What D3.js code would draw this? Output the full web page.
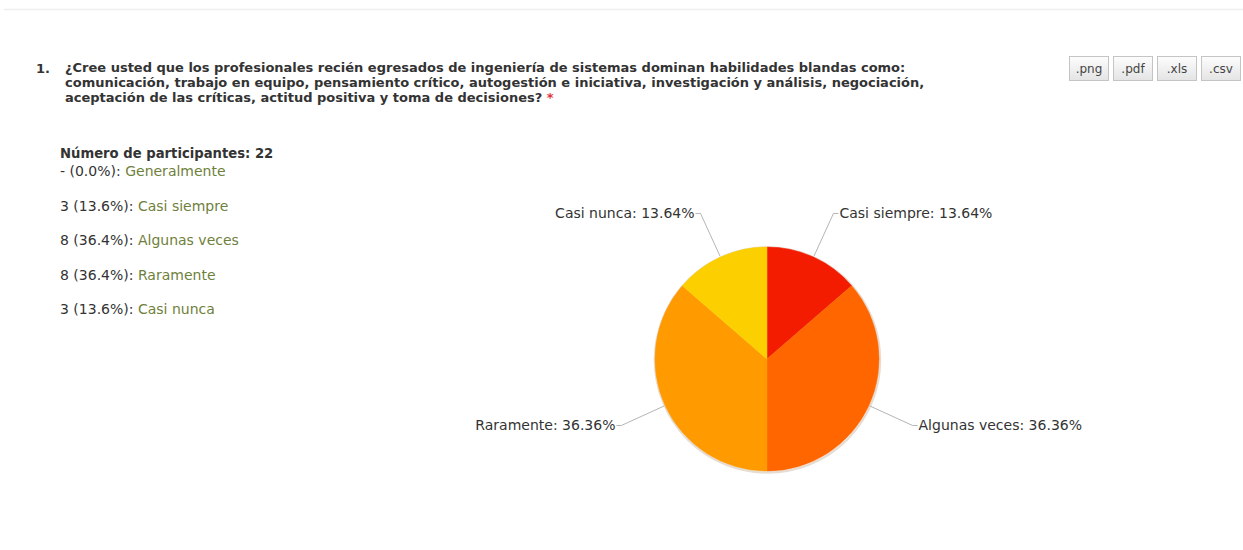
<!DOCTYPE html>
<html>
<head>
<meta charset="utf-8">
<script src="https://cdn.jsdelivr.net/npm/d3@7"></script>
<style>
  body { margin: 0; background: #fff; }
  svg { display: block; }
</style>
</head>
<body>
<svg id="chart" width="1243" height="550"></svg>
<script>
// data
const questionNumber = "1.";
const questionLines = [
  "¿Cree usted que los profesionales recién egresados de ingeniería de sistemas dominan habilidades blandas como:",
  "comunicación, trabajo en equipo, pensamiento crítico, autogestión e iniciativa, investigación y análisis, negociación,",
  "aceptación de las críticas, actitud positiva y toma de decisiones?"
];
const categories = ["Generalmente", "Casi siempre", "Algunas veces", "Raramente", "Casi nunca"];
const counts = [0, 3, 8, 8, 3];
const sliceColors = ["#7cb5ec", "#f31c00", "#ff6600", "#ff9a00", "#fccf00"];
const exportButtons = [".png", ".pdf", ".xls", ".csv"];

const width = 1243;
const fontFamily = "'DejaVu Sans', Verdana, sans-serif";
const total = d3.sum(counts);

const svg = d3.select("#chart");

svg.append("rect").attr("width", width).attr("height", 550).attr("fill", "#fff");

// faint top rule
svg.append("line")
  .attr("x1", 4).attr("x2", width).attr("y1", 9.5).attr("y2", 9.5)
  .attr("stroke", "#eeeeee").attr("stroke-width", 1.5);

// question heading
const head = svg.append("g").attr("class", "question")
  .style("font-family", fontFamily).style("font-size", "13px")
  .style("font-weight", "bold").style("fill", "#333");

head.append("text").attr("x", 36).attr("y", 73).text(questionNumber);

head.selectAll("text.line")
  .data(questionLines)
  .enter()
  .append("text")
  .attr("class", "line")
  .attr("x", 65)
  .attr("y", (d, i) => 72 + i * 15)
  .each(function(d, i) {
    const t = d3.select(this);
    t.append("tspan").text(d);
    if (i === questionLines.length - 1) {
      t.append("tspan").attr("fill", "#e0343a").text(" *");
    }
  });

// export buttons
const btnG = svg.append("g").attr("class", "buttons")
  .style("font-family", fontFamily).style("font-size", "12px");

let bx = 1240;
const btnData = exportButtons.slice().reverse().map(label => {
  const w = 39;
  bx -= w;
  const item = { label, x: bx, w };
  bx -= 5;
  return item;
});

const grad = svg.append("defs").append("linearGradient")
  .attr("id", "btnGrad").attr("x1", 0).attr("x2", 0).attr("y1", 0).attr("y2", 1);
grad.append("stop").attr("offset", "0%").attr("stop-color", "#fdfdfd");
grad.append("stop").attr("offset", "100%").attr("stop-color", "#e4e4e4");

const btn = btnG.selectAll("g").data(btnData).enter().append("g");
btn.append("rect")
  .attr("x", d => d.x + 0.5).attr("y", 56.5)
  .attr("width", d => d.w).attr("height", 24)
  .attr("fill", "url(#btnGrad)")
  .attr("stroke", "#c4c4c4");
btn.append("text")
  .attr("x", d => d.x + d.w / 2 + 0.5).attr("y", 73)
  .attr("text-anchor", "middle").attr("fill", "#444")
  .text(d => d.label);

// summary list
const list = svg.append("g").attr("class", "summary")
  .style("font-family", fontFamily).style("font-size", "14px");

list.append("text")
  .attr("x", 60).attr("y", 158)
  .style("font-weight", "bold").style("font-size", "13.2px").attr("fill", "#333")
  .text("Número de participantes: " + total);

const fmt1 = d3.format(".1f");
list.selectAll("text.item")
  .data(categories.map((c, i) => ({ c, n: counts[i] })))
  .enter()
  .append("text")
  .attr("class", "item")
  .attr("x", 60)
  .attr("y", (d, i) => 176 + i * 34.5)
  .each(function(d) {
    const t = d3.select(this);
    const num = d.n === 0 ? "-" : d.n;
    t.append("tspan").attr("fill", "#333")
      .text(num + " (" + fmt1(d.n / total * 100) + "%): ");
    t.append("tspan").attr("fill", "#6f7f3c").text(d.c);
  });

// pie
const cx = 767, cy = 359, radius = 112;
const pieData = categories.map((c, i) => ({ c, n: counts[i], color: sliceColors[i] }));

const pie = d3.pie().sort(null).value(d => d.n);
const arcs = pie(pieData).filter(d => d.data.n > 0);
const arc = d3.arc().innerRadius(0).outerRadius(radius);

const pieG = svg.append("g").attr("transform", "translate(" + cx + "," + cy + ")");

pieG.append("circle")
  .attr("r", radius + 0.5)
  .attr("fill", "none")
  .attr("stroke", "rgba(120,60,0,0.18)")
  .attr("stroke-width", 2.5)
  .attr("transform", "translate(0.5,1)");

pieG.selectAll("path.slice")
  .data(arcs)
  .enter()
  .append("path")
  .attr("class", "slice")
  .attr("d", arc)
  .attr("fill", d => d.data.color)
  .attr("stroke", d => d.data.color)
  .attr("stroke-width", 0.5);

// labels + connectors
const fmt2 = d3.format(".2f");
const kneeR = 160;

const lab = pieG.selectAll("g.label")
  .data(arcs)
  .enter()
  .append("g")
  .attr("class", "label");

lab.each(function(d) {
  const mid = (d.startAngle + d.endAngle) / 2;
  const right = Math.sin(mid) >= 0;
  const e = [Math.sin(mid) * (radius + 1), -Math.cos(mid) * (radius + 1)];
  const k = [Math.sin(mid) * kneeR, -Math.cos(mid) * kneeR];
  const tailX = k[0] + (right ? 5 : -5);
  const g = d3.select(this);
  g.append("path")
    .attr("d", d3.line()([e, k, [tailX, k[1]]]))
    .attr("fill", "none")
    .attr("stroke", "#b5b5b5")
    .attr("stroke-width", 1);
  g.append("text")
    .attr("x", tailX + (right ? 1 : -1))
    .attr("y", k[1] + 5)
    .attr("text-anchor", right ? "start" : "end")
    .style("font-family", fontFamily)
    .style("font-size", "14px")
    .attr("fill", "#333")
    .text(d.data.c + ": " + fmt2(d.data.n / total * 100) + "%");
});
</script>
</body>
</html>
